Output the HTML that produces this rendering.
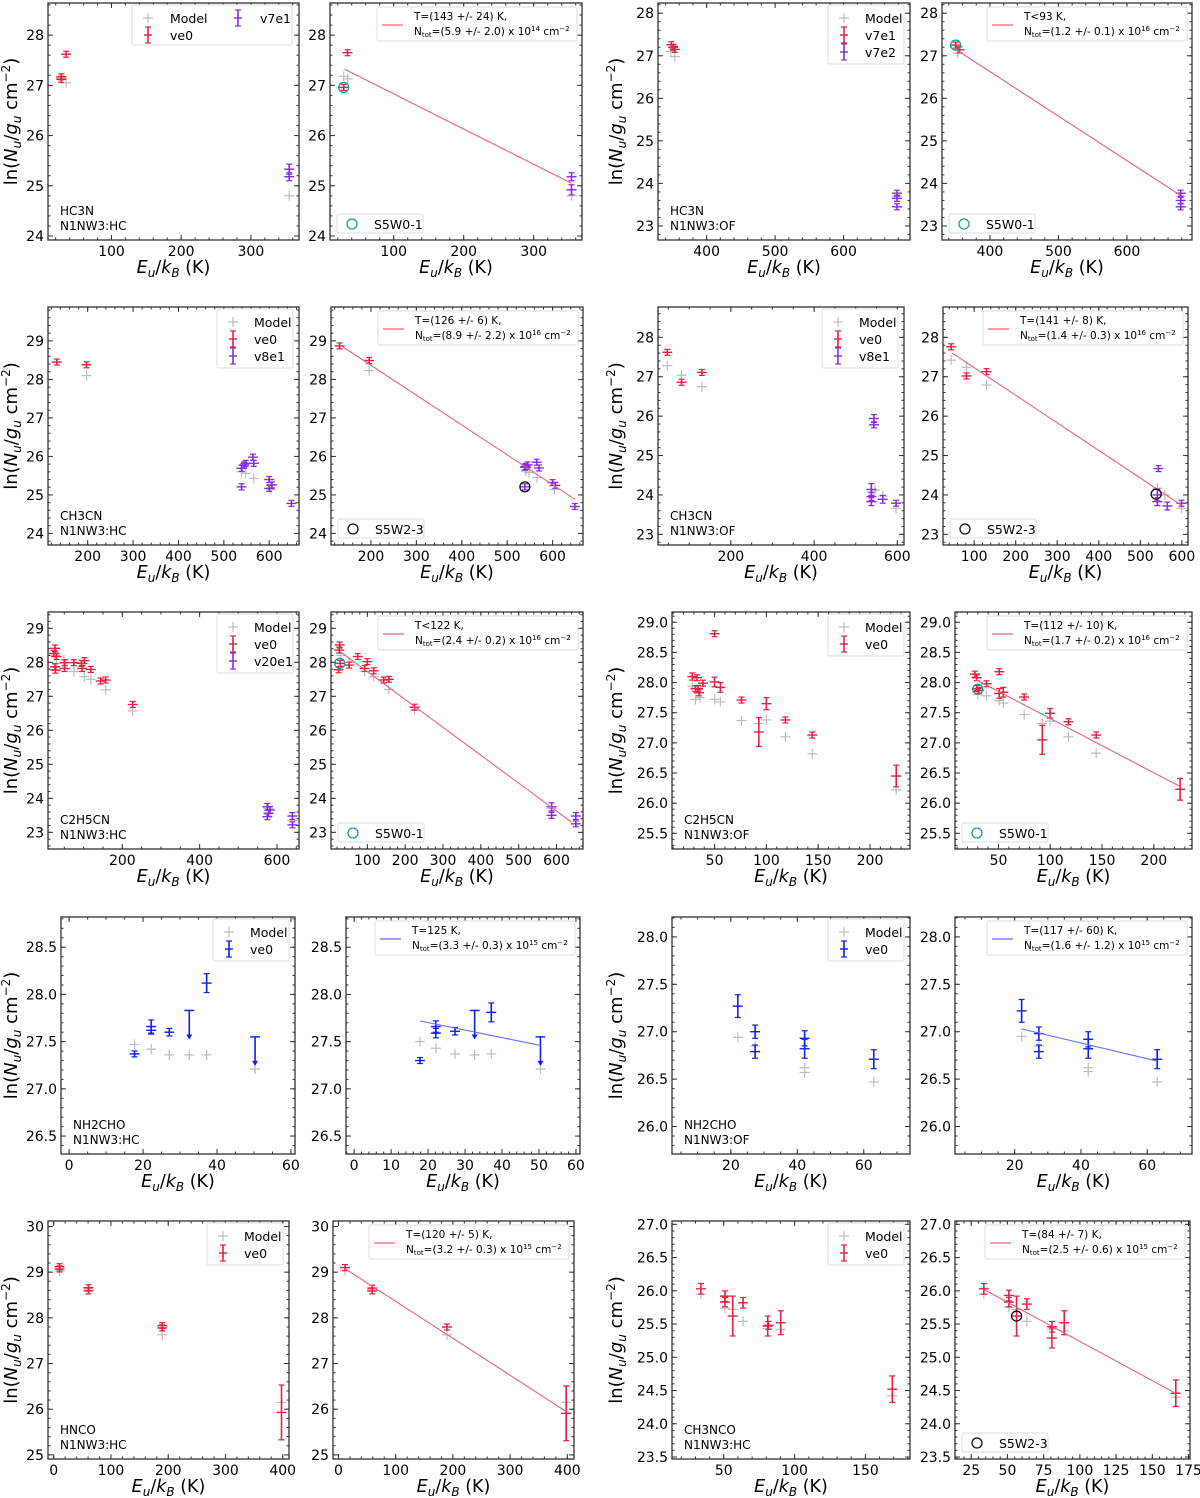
<!DOCTYPE html>
<html><head><meta charset="utf-8"><style>
html,body{margin:0;padding:0;background:#fff;}
svg{display:block;font-family:"DejaVu Sans","Liberation Sans",sans-serif;}
</style></head><body>
<svg id="fig" width="1200" height="1498" viewBox="0 0 1200 1498" xmlns="http://www.w3.org/2000/svg"></svg>
<script>
// ---------- data (E_u/k_B, ln(N_u/g_u), errors) ----------
// P1 HC3N HC
const p1_ve0_E=[28,28,35], p1_ve0_y=[27.17,27.12,27.62], p1_ve0_e=[0.05,0.05,0.05];
const p1_v7e1_E=[355,355], p1_v7e1_y=[25.33,25.18], p1_v7e1_e=[0.1,0.08];
const p1_mod_E=[28,35,355], p1_mod_y=[27.14,27.05,24.8];
// P2 HC3N HC fit
const p2_ve0_E=[28.6,34], p2_ve0_y=[26.96,27.65], p2_ve0_e=[0.05,0.05];
const p2_v7e1_E=[354,354], p2_v7e1_y=[25.18,24.92], p2_v7e1_e=[0.08,0.1];
const p2_mod_E=[28.6,34,354], p2_mod_y=[27.18,27.13,24.8];
const p2_fit_E=[30,354], p2_fit_y=[27.32,25.05];
const p2_circ=[28.6,26.96];
// P3 HC3N OF
const p3_v7e1_E=[348.5,351,353.6], p3_v7e1_y=[27.26,27.2,27.15], p3_v7e1_e=[0.04,0.04,0.04];
const p3_v7e2_E=[678,678,678], p3_v7e2_y=[23.77,23.65,23.45], p3_v7e2_e=[0.05,0.05,0.05];
const p3_mod_E=[348,353.6,678], p3_mod_y=[27.1,26.98,23.7];
// P4
const p4_v7e1_E=[350,355.6], p4_v7e1_y=[27.25,27.14], p4_v7e1_e=[0.04,0.04];
const p4_v7e2_E=[678.5,678.5,678.5], p4_v7e2_y=[23.77,23.6,23.45], p4_v7e2_e=[0.05,0.05,0.05];
const p4_mod_E=[353,678.5], p4_mod_y=[27.06,23.7];
const p4_fit_E=[350,678], p4_fit_y=[27.15,23.72];
const p4_circ=[350,27.25];
// P5 CH3CN HC
const p5_ve0_E=[132,197.4], p5_ve0_y=[28.45,28.38], p5_ve0_e=[0.05,0.05];
const p5_v8e1_E=[539,545,548,564,566,539,600,600,606,649], p5_v8e1_y=[25.69,25.78,25.82,25.98,25.82,25.21,25.17,25.4,25.26,24.78], p5_v8e1_e=[0.05,0.05,0.05,0.06,0.05,0.08,0.05,0.05,0.05,0.05];
const p5_mod_E=[197.4,539,541,548,566,604], p5_mod_y=[28.1,25.6,25.7,25.56,25.43,25.14];
// P6
const p6_ve0_E=[131,196], p6_ve0_y=[28.87,28.49], p6_ve0_e=[0.06,0.06];
const p6_v8e1_E=[539,541,545,565,570,600,606,649,539], p6_v8e1_y=[25.72,25.74,25.78,25.85,25.7,25.32,25.25,24.7,25.21], p6_v8e1_e=[0.05,0.05,0.05,0.05,0.05,0.05,0.05,0.05,0.08];
const p6_mod_E=[196,541,548,566,604], p6_mod_y=[28.23,25.62,25.58,25.45,25.14];
const p6_fit_E=[131,650], p6_fit_y=[28.9,24.88];
const p6_circ=[539,25.21];
// P7 CH3CN OF
const p7_ve0_E=[47.4,81.5,130.5], p7_ve0_y=[27.62,26.86,27.11], p7_ve0_e=[0.06,0.06,0.06];
const p7_v8e1_E=[543.8,543.8,537.6,537.6,537.6,565,597], p7_v8e1_y=[25.94,25.78,24.14,23.96,23.83,23.89,23.79], p7_v8e1_e=[0.1,0.06,0.15,0.1,0.1,0.1,0.07];
const p7_mod_E=[47.4,81.5,130.5,537.6,546,565,597], p7_mod_y=[27.28,27.04,26.75,24.08,24.12,23.97,23.66];
// P8
const p8_ve0_E=[44.6,81.5,129.6], p8_ve0_y=[27.76,27.02,27.13], p8_ve0_e=[0.06,0.06,0.06];
const p8_v8e1_E=[543.6,541,541,565,599], p8_v8e1_y=[24.67,24.0,23.83,23.72,23.79], p8_v8e1_e=[0.06,0.15,0.1,0.1,0.07];
const p8_mod_E=[44.6,81.5,129.6,541,559,599], p8_mod_y=[27.42,27.24,26.79,24.17,24.0,23.66];
const p8_fit_E=[47,600], p8_fit_y=[27.6,23.73];
const p8_circ=[538,24.02];
// P9 C2H5CN HC
const p9_ve0_E=[23,26,29.6,26,27,50.7,51,74.6,94.4,96,102,118.5,144,157,227], p9_ve0_y=[28.26,28.41,28.17,27.87,27.77,27.82,27.99,27.99,27.97,27.82,28.05,27.79,27.45,27.48,26.76], p9_ve0_e=[0.08,0.1,0.06,0.08,0.08,0.08,0.08,0.06,0.06,0.08,0.08,0.06,0.06,0.06,0.08];
const p9_v20e1_E=[575,578,575,582,640,640], p9_v20e1_y=[23.75,23.56,23.46,23.66,23.48,23.22], p9_v20e1_e=[0.1,0.08,0.06,0.1,0.1,0.06];
const p9_mod_E=[26,49,74.6,102,118.5,157,227,30,578,640], p9_mod_y=[28.2,28.07,27.73,27.58,27.5,27.19,26.57,27.97,23.7,23.35];
// P10
const p10_ve0_E=[25.8,27,24,28,74.6,52,93,100,117,143,157,225], p10_ve0_y=[28.36,28.51,27.78,27.97,28.17,27.92,27.82,28.02,27.75,27.48,27.5,26.68], p10_ve0_e=[0.08,0.08,0.08,0.06,0.06,0.06,0.08,0.06,0.06,0.06,0.06,0.06];
const p10_v20e1_E=[587,587,651,651], p10_v20e1_y=[23.75,23.5,23.48,23.25], p10_v20e1_e=[0.12,0.08,0.1,0.06];
const p10_mod_E=[30,52,93,117,157,225,587], p10_mod_y=[28.2,28.0,27.73,27.58,27.2,26.6,23.7];
const p10_fit_E=[30,640], p10_fit_y=[28.3,23.3];
const p10_circ=[27,27.97];
// P11 C2H5CN OF
const p11_ve0_E=[28.5,31.5,33,34,35,38.8,50,50,55.6,76,92.7,100,118.3,144.3,225.3], p11_ve0_y=[28.1,27.9,28.08,27.9,27.83,27.99,28.81,28.01,27.92,27.71,27.18,27.65,27.38,27.13,26.45], p11_ve0_e=[0.06,0.04,0.04,0.04,0.05,0.04,0.03,0.08,0.08,0.03,0.24,0.1,0.03,0.03,0.18];
const p11_mod_E=[28.5,31.5,36,50,55.6,76,92.7,100,118.3,144.3,225.3], p11_mod_y=[27.94,27.72,27.75,27.72,27.68,27.37,27.32,27.38,27.1,26.82,26.22];
// P12
const p12_ve0_E=[27.3,29,29,31,38.4,50.7,50.7,54.6,74.8,92.3,99.8,117.6,144.4,225.4], p12_ve0_y=[28.14,28.08,27.9,27.87,27.98,28.18,27.82,27.84,27.76,27.05,27.49,27.35,27.13,26.23], p12_ve0_e=[0.04,0.04,0.04,0.04,0.04,0.04,0.08,0.08,0.03,0.24,0.08,0.03,0.04,0.18];
const p12_mod_E=[30,38.4,50.7,54.6,74.8,92.3,99.8,117.6,144.4], p12_mod_y=[27.8,27.78,27.7,27.66,27.47,27.32,27.36,27.1,26.83];
const p12_fit_E=[28,225], p12_fit_y=[28.05,26.28];
const p12_circ=[30,27.89];
// P13 NH2CHO HC
const p13_ve0_E=[17.7,22.2,22.2,27.1,32.5,37.2,50.3], p13_ve0_y=[27.37,27.66,27.62,27.6,27.83,28.12,27.55], p13_ve0_e=[0.03,0.07,0.04,0.04,0,0.1,0], p13_ve0_ul=[0,0,0,0,1,0,1];
const p13_mod_E=[17.7,22.2,27.1,32.5,37.2,50.3], p13_mod_y=[27.47,27.42,27.36,27.36,27.36,27.21];
// P14
const p14_ve0_E=[17.8,22.1,22.1,27.3,32.6,37.1,50.4], p14_ve0_y=[27.3,27.66,27.59,27.61,27.83,27.81,27.55], p14_ve0_e=[0.03,0.06,0.05,0.04,0,0.1,0], p14_ve0_ul=[0,0,0,0,1,0,1];
const p14_mod_E=[17.8,22.1,27.3,32.6,37.1,50.4], p14_mod_y=[27.5,27.43,27.37,27.36,27.37,27.21];
const p14_fit_E=[17.8,50.4], p14_fit_y=[27.72,27.46];
// P15 NH2CHO OF
const p15_ve0_E=[22.1,27.3,27.3,42.2,42.2,63], p15_ve0_y=[27.27,27.0,26.79,26.93,26.82,26.71], p15_ve0_e=[0.12,0.07,0.07,0.08,0.1,0.1];
const p15_mod_E=[22.1,27.3,42.2,42.2,63], p15_mod_y=[26.94,26.85,26.62,26.57,26.47];
// P16
const p16_ve0_E=[22.1,27.3,27.3,42.2,42.2,63], p16_ve0_y=[27.22,26.98,26.79,26.92,26.82,26.71], p16_ve0_e=[0.12,0.07,0.07,0.08,0.1,0.1];
const p16_mod_E=[22.1,27.3,42.2,42.2,63], p16_mod_y=[26.95,26.85,26.62,26.58,26.47];
const p16_fit_E=[22,63], p16_fit_y=[27.03,26.69];
// P17 HNCO HC
const p17_ve0_E=[10.1,10.1,60.6,60.6,189.6,189.6,397.9], p17_ve0_y=[29.12,29.07,28.66,28.59,27.83,27.78,25.93], p17_ve0_e=[0.05,0.05,0.05,0.05,0.05,0.04,0.6];
const p17_mod_E=[10.1,60.6,189.6,397.9], p17_mod_y=[29.03,28.63,27.63,26.15];
// P18
const p18_ve0_E=[11.4,59,59,189.6,398], p18_ve0_y=[29.1,28.65,28.59,27.8,25.91], p18_ve0_e=[0.06,0.06,0.06,0.06,0.6];
const p18_mod_E=[11.4,59,189.6,398], p18_mod_y=[29.03,28.62,27.63,26.15];
const p18_fit_E=[11,398], p18_fit_y=[29.08,25.95];
// P19 CH3NCO HC
const p19_ve0_E=[33.8,50.8,50.8,56.3,63.6,81,81.5,90.2,169], p19_ve0_y=[26.03,25.92,25.83,25.62,25.82,25.47,25.48,25.52,24.52], p19_ve0_e=[0.08,0.08,0.07,0.3,0.08,0.15,0.06,0.18,0.2];
const p19_mod_E=[33.8,50.8,56.3,63.6,81,90.2,169], p19_mod_y=[25.95,25.74,25.72,25.54,25.43,25.42,24.42];
// P20
const p20_ve0_E=[33.7,51,51,56.3,63.4,80.7,80.7,89.2,166.2], p20_ve0_y=[26.03,25.93,25.83,25.62,25.8,25.46,25.29,25.52,24.46], p20_ve0_e=[0.08,0.08,0.07,0.3,0.08,0.08,0.15,0.18,0.2];
const p20_mod_E=[33.7,51,56.3,63.4,80.7,89.2,166.2], p20_mod_y=[25.95,25.75,25.72,25.54,25.42,25.4,24.4];
const p20_fit_E=[33.7,166], p20_fit_y=[26.02,24.46];
const p20_circ=[56.3,25.62];

// ---------- styling ----------
const RED='#e8203f', PUR='#8a2be2', BLUE='#1020f0', GRAY='#bdbdbd', TEAL='#1a9a9a', FITR='#f0607e', FITB='#6070ff';
const svg=document.getElementById('fig');
const NS='http://www.w3.org/2000/svg';
function mk(tag,attrs,parent){const e=document.createElementNS(NS,tag);for(const k in attrs)e.setAttribute(k,attrs[k]);(parent||svg).appendChild(e);return e;}
function rng(a,b,s){const r=[];for(let v=a;v<=b+1e-9;v+=s)r.push(Math.round(v*1000)/1000);return r;}

const S=(E,y,e,color,label,ul)=>({E,y,e,color,label,ul});
const panels=[
 {id:1,box:[48,3,299,240],x:[9,369],xt:rng(100,300,100),xm:20,y:[23.92,28.64],yt:rng(24,28,1),ym:0.2,dec:0,ylab:true,mol:['HC3N','N1NW3:HC'],
  ser:[S(p1_ve0_E,p1_ve0_y,p1_ve0_e,RED,'ve0'),S(p1_v7e1_E,p1_v7e1_y,p1_v7e1_e,PUR,'v7e1')],mod:[p1_mod_E,p1_mod_y],leg:'two'},
 {id:2,box:[330,3,582,240],x:[9,369],xt:rng(100,300,100),xm:20,y:[23.92,28.64],yt:rng(24,28,1),ym:0.2,dec:0,
  ser:[S(p2_ve0_E,p2_ve0_y,p2_ve0_e,RED),S(p2_v7e1_E,p2_v7e1_y,p2_v7e1_e,PUR)],mod:[p2_mod_E,p2_mod_y],fit:[p2_fit_E,p2_fit_y,FITR],ft:['T=(143 +/- 24) K,','(5.9 +/- 2.0) x 10','14'],circ:[p2_circ,TEAL,'S5W0-1']},
 {id:3,box:[658,3,910,240],x:[329,697],xt:rng(400,600,100),xm:20,y:[22.67,28.24],yt:rng(23,28,1),ym:0.2,dec:0,ylab:true,mol:['HC3N','N1NW3:OF'],
  ser:[S(p3_v7e1_E,p3_v7e1_y,p3_v7e1_e,RED,'v7e1'),S(p3_v7e2_E,p3_v7e2_y,p3_v7e2_e,PUR,'v7e2')],mod:[p3_mod_E,p3_mod_y],leg:'one'},
 {id:4,box:[942,3,1192,240],x:[330,695],xt:rng(400,600,100),xm:20,y:[22.67,28.24],yt:rng(23,28,1),ym:0.2,dec:0,
  ser:[S(p4_v7e1_E,p4_v7e1_y,p4_v7e1_e,RED),S(p4_v7e2_E,p4_v7e2_y,p4_v7e2_e,PUR)],mod:[p4_mod_E,p4_mod_y],fit:[p4_fit_E,p4_fit_y,FITR],ft:['T<93 K,','(1.2 +/- 0.1) x 10','16'],circ:[p4_circ,TEAL,'S5W0-1']},
 {id:5,box:[48,307,299,545],x:[112.6,665.6],xt:rng(200,600,100),xm:20,y:[23.70,29.88],yt:rng(24,29,1),ym:0.2,dec:0,ylab:true,mol:['CH3CN','N1NW3:HC'],
  ser:[S(p5_ve0_E,p5_ve0_y,p5_ve0_e,RED,'ve0'),S(p5_v8e1_E,p5_v8e1_y,p5_v8e1_e,PUR,'v8e1')],mod:[p5_mod_E,p5_mod_y],leg:'one'},
 {id:6,box:[331,307,583,545],x:[112,667],xt:rng(200,600,100),xm:20,y:[23.70,29.88],yt:rng(24,29,1),ym:0.2,dec:0,
  ser:[S(p6_ve0_E,p6_ve0_y,p6_ve0_e,RED),S(p6_v8e1_E,p6_v8e1_y,p6_v8e1_e,PUR)],mod:[p6_mod_E,p6_mod_y],fit:[p6_fit_E,p6_fit_y,FITR],ft:['T=(126 +/- 6) K,','(8.9 +/- 2.2) x 10','16'],circ:[p6_circ,'#111','S5W2-3']},
 {id:7,box:[658,307,904,545],x:[25,616],xt:rng(200,600,200),xm:50,y:[22.73,28.77],yt:rng(23,28,1),ym:0.2,dec:0,ylab:true,mol:['CH3CN','N1NW3:OF'],
  ser:[S(p7_ve0_E,p7_ve0_y,p7_ve0_e,RED,'ve0'),S(p7_v8e1_E,p7_v8e1_y,p7_v8e1_e,PUR,'v8e1')],mod:[p7_mod_E,p7_mod_y],leg:'one'},
 {id:8,box:[943,307,1188,545],x:[25,614.7],xt:rng(100,600,100),xm:20,y:[22.73,28.77],yt:rng(23,28,1),ym:0.2,dec:0,
  ser:[S(p8_ve0_E,p8_ve0_y,p8_ve0_e,RED),S(p8_v8e1_E,p8_v8e1_y,p8_v8e1_e,PUR)],mod:[p8_mod_E,p8_mod_y],fit:[p8_fit_E,p8_fit_y,FITR],ft:['T=(141 +/- 8) K,','(1.4 +/- 0.3) x 10','16'],circ:[p8_circ,'#111','S5W2-3']},
 {id:9,box:[48,612,299,849],x:[7.8,657],xt:rng(200,600,200),xm:50,y:[22.51,29.48],yt:rng(23,29,1),ym:0.2,dec:0,ylab:true,mol:['C2H5CN','N1NW3:HC'],
  ser:[S(p9_ve0_E,p9_ve0_y,p9_ve0_e,RED,'ve0'),S(p9_v20e1_E,p9_v20e1_y,p9_v20e1_e,PUR,'v20e1')],mod:[p9_mod_E,p9_mod_y],leg:'one'},
 {id:10,box:[331,612,583,849],x:[4,670],xt:rng(100,600,100),xm:20,y:[22.51,29.48],yt:rng(23,29,1),ym:0.2,dec:0,
  ser:[S(p10_ve0_E,p10_ve0_y,p10_ve0_e,RED),S(p10_v20e1_E,p10_v20e1_y,p10_v20e1_e,PUR)],mod:[p10_mod_E,p10_mod_y],fit:[p10_fit_E,p10_fit_y,FITR],ft:['T<122 K,','(2.4 +/- 0.2) x 10','16'],circ:[p10_circ,TEAL,'S5W0-1']},
 {id:11,box:[672,612,910,849],x:[8.9,238.6],xt:rng(50,200,50),xm:10,y:[25.24,29.17],yt:rng(25.5,29,0.5),ym:0.1,dec:1,ylab:true,mol:['C2H5CN','N1NW3:OF'],
  ser:[S(p11_ve0_E,p11_ve0_y,p11_ve0_e,RED,'ve0')],mod:[p11_mod_E,p11_mod_y],leg:'one'},
 {id:12,box:[955,612,1192,849],x:[8,236.9],xt:rng(50,200,50),xm:10,y:[25.24,29.17],yt:rng(25.5,29,0.5),ym:0.1,dec:1,
  ser:[S(p12_ve0_E,p12_ve0_y,p12_ve0_e,RED)],mod:[p12_mod_E,p12_mod_y],fit:[p12_fit_E,p12_fit_y,FITR],ft:['T=(112 +/- 10) K,','(1.7 +/- 0.2) x 10','16'],circ:[p12_circ,TEAL,'S5W0-1']},
 {id:13,box:[61,917,295,1154],x:[-2.2,61.1],xt:rng(0,60,20),xm:5,y:[26.31,28.82],yt:rng(26.5,28.5,0.5),ym:0.1,dec:1,ylab:true,mol:['NH2CHO','N1NW3:HC'],
  ser:[S(p13_ve0_E,p13_ve0_y,p13_ve0_e,BLUE,'ve0',p13_ve0_ul)],mod:[p13_mod_E,p13_mod_y],leg:'one'},
 {id:14,box:[346,917,580,1154],x:[-2.2,61.1],xt:rng(0,60,10),xm:2,y:[26.31,28.82],yt:rng(26.5,28.5,0.5),ym:0.1,dec:1,
  ser:[S(p14_ve0_E,p14_ve0_y,p14_ve0_e,BLUE,null,p14_ve0_ul)],mod:[p14_mod_E,p14_mod_y],fit:[p14_fit_E,p14_fit_y,FITB],ft:['T=125 K,','(3.3 +/- 0.3) x 10','15']},
 {id:15,box:[672,917,910,1154],x:[2.3,73.9],xt:rng(20,60,20),xm:5,y:[25.71,28.21],yt:rng(26,28,0.5),ym:0.1,dec:1,ylab:true,mol:['NH2CHO','N1NW3:OF'],
  ser:[S(p15_ve0_E,p15_ve0_y,p15_ve0_e,BLUE,'ve0')],mod:[p15_mod_E,p15_mod_y],leg:'one'},
 {id:16,box:[955,917,1192,1154],x:[2,73.5],xt:rng(20,60,20),xm:5,y:[25.71,28.21],yt:rng(26,28,0.5),ym:0.1,dec:1,
  ser:[S(p16_ve0_E,p16_ve0_y,p16_ve0_e,BLUE)],mod:[p16_mod_E,p16_mod_y],fit:[p16_fit_E,p16_fit_y,FITB],ft:['T=(117 +/- 60) K,','(1.6 +/- 1.2) x 10','15']},
 {id:17,box:[48,1221,289,1459],x:[-10,411],xt:rng(0,400,100),xm:20,y:[24.91,30.12],yt:rng(25,30,1),ym:0.2,dec:0,ylab:true,mol:['HNCO','N1NW3:HC'],
  ser:[S(p17_ve0_E,p17_ve0_y,p17_ve0_e,RED,'ve0')],mod:[p17_mod_E,p17_mod_y],leg:'one'},
 {id:18,box:[333,1221,574,1459],x:[-9.6,411.7],xt:rng(0,400,100),xm:20,y:[24.91,30.12],yt:rng(25,30,1),ym:0.2,dec:0,
  ser:[S(p18_ve0_E,p18_ve0_y,p18_ve0_e,RED)],mod:[p18_mod_E,p18_mod_y],fit:[p18_fit_E,p18_fit_y,FITR],ft:['T=(120 +/- 5) K,','(3.2 +/- 0.3) x 10','15']},
 {id:19,box:[672,1221,910,1459],x:[13.4,181.5],xt:rng(50,150,50),xm:10,y:[23.47,27.05],yt:rng(23.5,27,0.5),ym:0.1,dec:1,ylab:true,mol:['CH3NCO','N1NW3:HC'],
  ser:[S(p19_ve0_E,p19_ve0_y,p19_ve0_e,RED,'ve0')],mod:[p19_mod_E,p19_mod_y],leg:'one'},
 {id:20,box:[955,1221,1190,1459],x:[13.8,176],xt:rng(25,175,25),xm:5,y:[23.47,27.05],yt:rng(23.5,27,0.5),ym:0.1,dec:1,
  ser:[S(p20_ve0_E,p20_ve0_y,p20_ve0_e,RED)],mod:[p20_mod_E,p20_mod_y],fit:[p20_fit_E,p20_fit_y,FITR],ft:['T=(84 +/- 7) K,','(2.5 +/- 0.6) x 10','15'],circ:[p20_circ,'#111','S5W2-3']}
];

function ln(g,x1,y1,x2,y2,c,w){return mk('line',{x1,y1,x2,y2,stroke:c,'stroke-width':w||1},g);}
function cross(g,px,py,c){ln(g,px-5,py,px+5,py,c,1.2);ln(g,px,py-5,px,py+5,c,1.2);}
function obs(g,px,py,errPx,c,ul){
  ln(g,px-5,py,px+5,py,c,1.4);
  if(ul){const len=28;ln(g,px,py,px,py+len,c,1.6);ln(g,px-3,py,px+3,py,c,1.2);
    mk('path',{d:`M${px-3},${py+len-4}L${px+3},${py+len-4}L${px},${py+len+1}Z`,fill:c},g);}
  else{const e=Math.max(errPx,3);ln(g,px,py-e,px,py+e,c,1.6);ln(g,px-3,py-e,px+3,py-e,c,1.2);ln(g,px-3,py+e,px+3,py+e,c,1.2);}
}
function legSym(g,x,y,c,model){if(model){cross(g,x,y,GRAY);}else{ln(g,x-4,y,x+4,y,c,1.4);ln(g,x,y-8,x,y+8,c,1.6);ln(g,x-3,y-8,x+3,y-8,c,1.2);ln(g,x-3,y+8,x+3,y+8,c,1.2);}}
function txt(g,x,y,s,size,anchor){const t=mk('text',{x,y,'font-size':size,'text-anchor':anchor||'start',fill:'#000'},g);t.textContent=s;return t;}

panels.forEach(p=>{
  const [x0,y0,x1,y1]=p.box;
  const sx=v=>x0+(v-p.x[0])/(p.x[1]-p.x[0])*(x1-x0);
  const sy=v=>y1-(v-p.y[0])/(p.y[1]-p.y[0])*(y1-y0);
  const g=mk('g',{});
  
  
  // ticks
  const tg=mk('g',{},g);
  
  
  const xmin0=Math.ceil(p.x[0]/p.xm)*p.xm;
  for(let v=xmin0;v<=p.x[1];v+=p.xm){const X=sx(v);ln(tg,X,y1,X,y1-2.5,'#333');ln(tg,X,y0,X,y0+2.5,'#333');}
  const ymin0=Math.ceil(p.y[0]/p.ym-1e-6)*p.ym;
  for(let v=ymin0;v<=p.y[1];v+=p.ym){const Y=sy(v);ln(tg,x0,Y,x0+2.5,Y,'#333');ln(tg,x1,Y,x1-2.5,Y,'#333');}
  p.xt.forEach(v=>{const X=sx(v);ln(tg,X,y1,X,y1-5,'#333');ln(tg,X,y0,X,y0+5,'#333');
    const t=txt(tg,X,y1+16,String(v),14,'middle');
    
    });
  p.yt.forEach(v=>{const Y=sy(v);ln(tg,x0,Y,x0+5,Y,'#333');ln(tg,x1,Y,x1-5,Y,'#333');
    const t=txt(tg,x0-4,Y+5,v.toFixed(p.dec),14,'end');
    
    });
  // model points
  const mg=mk('g',{},g);
  
  
  p.mod[0].forEach((E,i)=>cross(mg,sx(E),sy(p.mod[1][i]),GRAY));
  // observed series
  p.ser.forEach(s=>{
    const sg=mk('g',{},g);
    
    
    s.E.forEach((E,i)=>{const ePx=Math.abs(sy(s.y[i]+s.e[i])-sy(s.y[i]));obs(sg,sx(E),sy(s.y[i]),ePx,s.color,s.ul&&s.ul[i]);});
  });
  // fit
  if(p.fit){const l=ln(g,sx(p.fit[0][0]),sy(p.fit[1][0]),sx(p.fit[0][1]),sy(p.fit[1][1]),p.fit[2],1.1);
    
    }
  if(p.circ){const c=mk('circle',{cx:sx(p.circ[0][0]),cy:sy(p.circ[0][1]),r:5,fill:'none',stroke:p.circ[1],'stroke-width':1.3},g);
    
    }
  // frame
  const fr=mk('rect',{x:x0,y:y0,width:x1-x0,height:y1-y0,fill:'none',stroke:'#333','stroke-width':1.3},g);
  
  
  // legends
  if(p.leg){
    const lg=mk('g',{},g);
    
    
    const items=[{m:true,l:'Model'}].concat(p.ser.map(s=>({c:s.color,l:s.label})));
    if(p.leg==='two'){
      mk('rect',{x:x0+84,y:y0+2,width:160,height:40,fill:'#fff',stroke:'#ddd',rx:2},lg);
      legSym(lg,x0+100,y0+15,null,true);txt(lg,x0+122,y0+20,'Model',12.5);
      legSym(lg,x0+100,y0+32,items[1].c);txt(lg,x0+122,y0+37,items[1].l,12.5);
      legSym(lg,x0+190,y0+15,items[2].c);txt(lg,x0+212,y0+20,items[2].l,12.5);
    } else {
      const n=items.length, L=x1-82;
      mk('rect',{x:L,y:y0+2,width:76,height:n*17+8,fill:'#fff',stroke:'#ddd',rx:2},lg);
      items.forEach((it,i)=>{const yy=y0+15+i*17;legSym(lg,L+16,yy,it.c,it.m);txt(lg,L+37,yy+5,it.l,12.5);});
    }
  }
  if(p.ft){
    const fg=mk('g',{},g);
    
    
    const L=x1-205;
    mk('rect',{x:L,y:y0+4,width:200,height:34,fill:'#fff',stroke:'#ddd',rx:2},fg);
    ln(fg,L+5,y0+22,L+26,y0+22,p.fit[2],1.3);
    txt(fg,L+37,y0+17,p.ft[0],10.5);
    const t=mk('text',{x:L+37,y:y0+32,'font-size':10.5,fill:'#000'},fg);
    const a=mk('tspan',{},t);a.textContent='N';
    const b=mk('tspan',{'font-size':7,dy:2},t);b.textContent='tot';
    const c=mk('tspan',{dy:-2},t);c.textContent='='+p.ft[1];
    const d=mk('tspan',{'font-size':7,dy:-4},t);d.textContent=p.ft[2];
    const e=mk('tspan',{dy:4},t);e.textContent=' cm';
    const f=mk('tspan',{'font-size':7,dy:-4},t);f.textContent='−2';
  }
  if(p.circ){
    const cg=mk('g',{},g);
    
    
    mk('rect',{x:x0+7,y:y1-26,width:86,height:19,fill:'#fff',stroke:'#ddd',rx:2},cg);
    mk('circle',{cx:x0+22,cy:y1-16,r:5,fill:'none',stroke:p.circ[1],'stroke-width':1.3},cg);
    txt(cg,x0+44,y1-11,p.circ[2],12.5);
  }
  if(p.mol){
    const m1=txt(g,x0+12,y1-25,p.mol[0],12);
    
    
    const m2=txt(g,x0+12,y1-10,p.mol[1],12);
    
    
  }
  // x label
  const xl=mk('text',{x:(x0+x1)/2,y:y1+33,'font-size':17.5,'text-anchor':'middle',fill:'#000'},g);
  
  
  xl.innerHTML='<tspan font-style="italic">E</tspan><tspan font-style="italic" font-size="12" dy="4">u</tspan><tspan dy="-4">/</tspan><tspan font-style="italic">k</tspan><tspan font-style="italic" font-size="12" dy="4">B</tspan><tspan dy="-4"> (K)</tspan>';
  if(p.ylab){
    const cx=(p.id===3||p.id===7||p.id===11||p.id===15||p.id===19)?x0-44:x0-34-(p.id===13?13:0)+(p.id===9||p.id===5||p.id===1||p.id===17?0:0);
    const X=p.box[0]<400?17:622, Y=(y0+y1)/2;
    const yl=mk('text',{x:X,y:Y,'font-size':18,'text-anchor':'middle',fill:'#000',transform:`rotate(-90 ${X} ${Y})`},g);
    
    
    yl.innerHTML='ln(<tspan font-style="italic">N</tspan><tspan font-style="italic" font-size="12" dy="4">u</tspan><tspan dy="-4">/</tspan><tspan font-style="italic">g</tspan><tspan font-style="italic" font-size="12" dy="4">u</tspan><tspan dy="-4"> cm</tspan><tspan font-size="12" dy="-7">−2</tspan><tspan dy="7">)</tspan>';
  }
});
</script>
</body></html>
